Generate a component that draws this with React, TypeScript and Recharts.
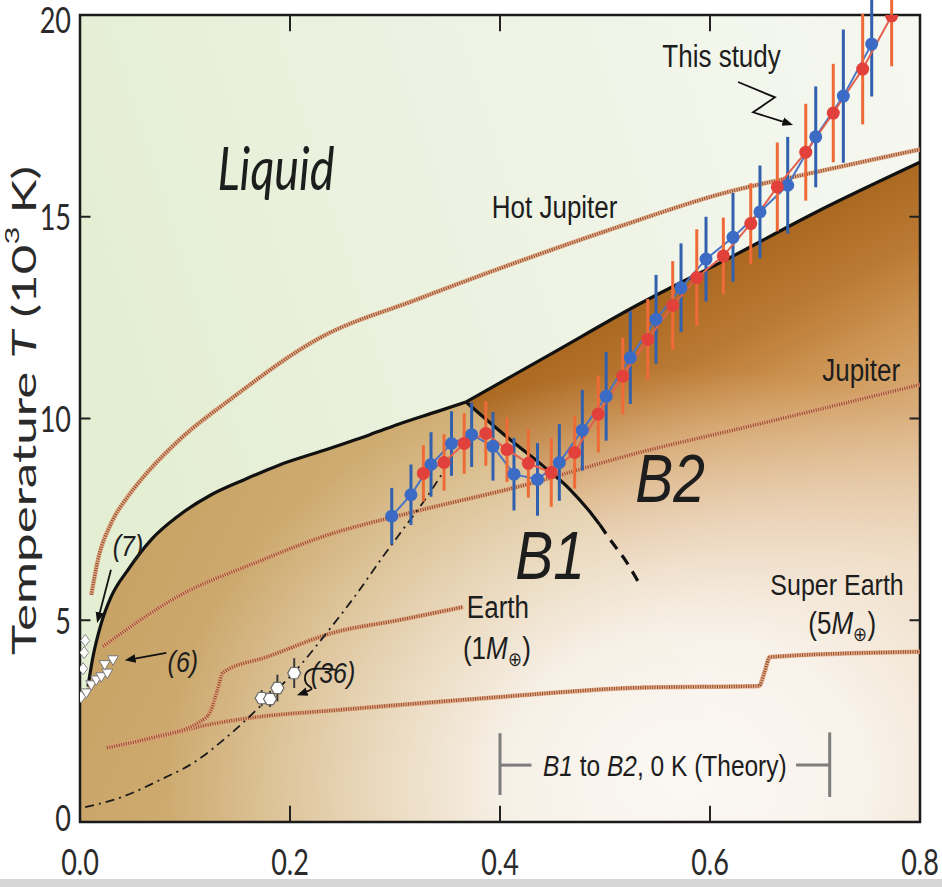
import React from 'react';
import {
  ComposedChart,
  Line,
  Area,
  Scatter,
  XAxis,
  YAxis,
  ErrorBar,
  ReferenceArea,
  ReferenceLine,
  ReferenceDot,
} from 'recharts';

type Pt = { x: number; y: number };
type PtE = Pt & { e: number };

// axis ticks
const xTicks = [0, 0.2, 0.4, 0.6, 0.8];
const yTicks = [0, 5, 10, 15, 20];
const innerXTicks = [0.2, 0.4, 0.6];
const innerYTicks = [5, 10, 15];

// liquid background spans the full plot
const liquidSky: Pt[] = [
  { x: 0, y: 20 },
  { x: 0.8, y: 20 },
];

// melting curve of the B1 phase (pressure TPa, T in 10^3 K)
const meltB1: Pt[] = [
  { x: 0.0076, y: 3.36 },
  { x: 0.0124, y: 4.1 },
  { x: 0.0203, y: 4.93 },
  { x: 0.0298, y: 5.59 },
  { x: 0.0457, y: 6.25 },
  { x: 0.0679, y: 7.0 },
  { x: 0.0933, y: 7.58 },
  { x: 0.125, y: 8.11 },
  { x: 0.157, y: 8.49 },
  { x: 0.19, y: 8.85 },
  { x: 0.2286, y: 9.18 },
  { x: 0.276, y: 9.6 },
  { x: 0.308, y: 9.9 },
  { x: 0.34, y: 10.17 },
  { x: 0.3676, y: 10.41 },
];

// melting curve of the B2 phase
const meltB2: Pt[] = [
  { x: 0.3676, y: 10.41 },
  { x: 0.45, y: 11.62 },
  { x: 0.53, y: 12.8 },
  { x: 0.62, y: 14.0 },
  { x: 0.7, y: 15.1 },
  { x: 0.8, y: 16.35 },
];

// B1-B2 phase boundary
const b1b2Solid: Pt[] = [
  { x: 0.3676, y: 10.41 },
  { x: 0.4095, y: 9.48 },
  { x: 0.4412, y: 8.82 },
  { x: 0.4667, y: 8.24 },
  { x: 0.4889, y: 7.58 },
  { x: 0.495, y: 7.37 },
];
const b1b2Dashed: Pt[] = [
  { x: 0.495, y: 7.37 },
  { x: 0.5048, y: 7.0 },
  { x: 0.519, y: 6.5 },
  { x: 0.5333, y: 5.88 },
];
// solid fields: wall at zero pressure, melting curve, phase boundary, lower tail
const b1Wall: Pt[] = [{ x: 0, y: 3.05 }];
const b1Toe: Pt[] = [
  { x: 0.56, y: 4.6 },
  { x: 0.6, y: 2.5 },
  { x: 0.635, y: 0 },
];
const b1Region: Pt[] = [...b1Wall, ...meltB1, ...b1b2Solid.slice(1), ...b1b2Dashed.slice(1), ...b1Toe];
const solidRegion: Pt[] = [...b1Wall, ...meltB1, ...meltB2.slice(1)];

// planetary isentropes
const hotJupiter: Pt[] = [
  { x: 0.0108, y: 5.63 },
  { x: 0.0171, y: 6.5 },
  { x: 0.0298, y: 7.41 },
  { x: 0.0457, y: 8.07 },
  { x: 0.0584, y: 8.49 },
  { x: 0.095, y: 9.48 },
  { x: 0.143, y: 10.47 },
  { x: 0.2286, y: 12.0 },
  { x: 0.321, y: 12.95 },
  { x: 0.419, y: 13.9 },
  { x: 0.514, y: 14.76 },
  { x: 0.6095, y: 15.56 },
  { x: 0.7048, y: 16.13 },
  { x: 0.8, y: 16.67 },
];
const jupiter: Pt[] = [
  { x: 0.0219, y: 4.35 },
  { x: 0.0933, y: 5.59 },
  { x: 0.1695, y: 6.45 },
  { x: 0.2286, y: 7.05 },
  { x: 0.32, y: 7.7 },
  { x: 0.419, y: 8.32 },
  { x: 0.533, y: 9.16 },
  { x: 0.638, y: 9.81 },
  { x: 0.8, y: 10.84 },
];
const earth: Pt[] = [
  { x: 0.0257, y: 1.84 },
  { x: 0.0667, y: 2.08 },
  { x: 0.114, y: 2.48 },
  { x: 0.124, y: 2.73 },
  { x: 0.131, y: 3.28 },
  { x: 0.136, y: 3.7 },
  { x: 0.178, y: 4.09 },
  { x: 0.241, y: 4.69 },
  { x: 0.305, y: 5.01 },
  { x: 0.365, y: 5.33 },
];
const superEarth: Pt[] = [
  { x: 0.0257, y: 1.84 },
  { x: 0.07, y: 2.08 },
  { x: 0.124, y: 2.42 },
  { x: 0.162, y: 2.58 },
  { x: 0.248, y: 2.78 },
  { x: 0.4, y: 3.1 },
  { x: 0.533, y: 3.33 },
  { x: 0.6467, y: 3.37 },
  { x: 0.652, y: 3.72 },
  { x: 0.657, y: 4.09 },
  { x: 0.8, y: 4.22 },
];

// dash-dot curve through the shock data
const hugoniot: Pt[] = [
  { x: 0.005, y: 0.37 },
  { x: 0.04, y: 0.62 },
  { x: 0.076, y: 1.04 },
  { x: 0.11, y: 1.5 },
  { x: 0.14, y: 2.11 },
  { x: 0.171, y: 2.85 },
  { x: 0.212, y: 3.95 },
  { x: 0.235, y: 4.69 },
  { x: 0.262, y: 5.6 },
  { x: 0.2886, y: 6.58 },
  { x: 0.3076, y: 7.25 },
  { x: 0.3267, y: 7.92 },
  { x: 0.3457, y: 8.66 },
];

// this study: two shots
const shotBlue: PtE[] = [
  { x: 0.2969, y: 7.58, e: 0.7 },
  { x: 0.3152, y: 8.11, e: 0.75 },
  { x: 0.3343, y: 8.86, e: 0.8 },
  { x: 0.3538, y: 9.38, e: 0.8 },
  { x: 0.373, y: 9.6, e: 0.8 },
  { x: 0.3933, y: 9.31, e: 0.85 },
  { x: 0.4133, y: 8.62, e: 0.9 },
  { x: 0.4357, y: 8.49, e: 0.9 },
  { x: 0.4565, y: 8.91, e: 0.95 },
  { x: 0.4784, y: 9.71, e: 1.0 },
  { x: 0.5011, y: 10.55, e: 1.1 },
  { x: 0.5241, y: 11.51, e: 1.15 },
  { x: 0.5486, y: 12.46, e: 1.1 },
  { x: 0.5724, y: 13.24, e: 1.1 },
  { x: 0.5962, y: 13.95, e: 1.05 },
  { x: 0.6219, y: 14.49, e: 1.1 },
  { x: 0.6476, y: 15.12, e: 1.15 },
  { x: 0.674, y: 15.78, e: 1.2 },
  { x: 0.7007, y: 16.98, e: 1.25 },
  { x: 0.727, y: 17.99, e: 1.65 },
  { x: 0.754, y: 19.28, e: 1.3 },
];
const shotRed: PtE[] = [
  { x: 0.327, y: 8.64, e: 0.7 },
  { x: 0.3467, y: 8.91, e: 0.7 },
  { x: 0.3659, y: 9.38, e: 0.75 },
  { x: 0.3865, y: 9.63, e: 0.8 },
  { x: 0.4067, y: 9.23, e: 0.8 },
  { x: 0.427, y: 8.89, e: 0.85 },
  { x: 0.4488, y: 8.66, e: 0.85 },
  { x: 0.4711, y: 9.16, e: 0.9 },
  { x: 0.4936, y: 10.11, e: 0.95 },
  { x: 0.5169, y: 11.05, e: 0.95 },
  { x: 0.5407, y: 11.96, e: 1.0 },
  { x: 0.5645, y: 12.8, e: 1.1 },
  { x: 0.5874, y: 13.49, e: 1.2 },
  { x: 0.6127, y: 14.03, e: 0.95 },
  { x: 0.6388, y: 14.83, e: 1.0 },
  { x: 0.6641, y: 15.74, e: 1.1 },
  { x: 0.6912, y: 16.6, e: 1.2 },
  { x: 0.7174, y: 17.57, e: 1.22 },
  { x: 0.7454, y: 18.66, e: 1.37 },
  { x: 0.773, y: 19.98, e: 1.25 },
];

// earlier measurements
const ref36: PtE[] = [
  { x: 0.173, y: 3.07, e: 0.2 },
  { x: 0.181, y: 3.05, e: 0.2 },
  { x: 0.188, y: 3.32, e: 0.33 },
  { x: 0.204, y: 3.69, e: 0.37 },
];
const ref6: Pt[] = [
  { x: 0.006, y: 3.2 },
  { x: 0.0108, y: 3.4 },
  { x: 0.0155, y: 3.52 },
  { x: 0.0203, y: 3.6 },
  { x: 0.026, y: 3.69 },
  { x: 0.0235, y: 3.9 },
  { x: 0.0314, y: 4.02 },
];
const ref7: Pt[] = [
  { x: 0.005, y: 4.5 },
  { x: 0.004, y: 4.2 },
  { x: 0.003, y: 3.8 },
  { x: 0.001, y: 3.1 },
];

// pointer lines for the annotations
const arrow7: Pt[] = [
  { x: 0.0295, y: 6.25 },
  { x: 0.0171, y: 5.01 },
];
const arrow6: Pt[] = [
  { x: 0.0822, y: 4.19 },
  { x: 0.0457, y: 4.02 },
];
const arrow36: Pt[] = [
  { x: 0.2445, y: 3.77 },
  { x: 0.219, y: 3.77 },
  { x: 0.2152, y: 3.45 },
  { x: 0.2206, y: 3.3 },
  { x: 0.2095, y: 3.17 },
];
const arrowStudy: Pt[] = [
  { x: 0.6267, y: 18.34 },
  { x: 0.6619, y: 17.96 },
  { x: 0.641, y: 17.59 },
  { x: 0.6762, y: 17.3 },
];

// B1 -> B2 transition pressure range from 0 K theory
const theoryRange = [0.4, 0.714];
const theoryLevel = 1.41;

const SANS = '"Liberation Sans", Arial, Helvetica, sans-serif';
const CAL = 'Lato, "Open Sans", sans-serif';
const INK = '#1d1d1d';

type TxtOpts = {
  size: number;
  italic?: boolean;
  family?: string;
  sy?: number;
  anchor?: 'start' | 'middle' | 'end';
  len?: number;
};

function drawText(cx: number, cy: number, o: TxtOpts, content: React.ReactNode) {
  const sy = o.sy ?? 1.2;
  return (
    <text
      x={0}
      y={o.size * 0.36}
      transform={`translate(${cx},${cy}) scale(1,${sy})`}
      fontSize={o.size}
      fontFamily={o.family ?? SANS}
      fontStyle={o.italic ? 'italic' : 'normal'}
      textAnchor={o.anchor ?? 'middle'}
      fill={INK}
      textLength={o.len}
      lengthAdjust={o.len ? 'spacingAndGlyphs' : undefined}
    >
      {content}
    </text>
  );
}

function tag(key: string, x: number, y: number, o: TxtOpts, content: React.ReactNode) {
  return (
    <ReferenceDot
      key={key}
      x={x}
      y={y}
      r={0}
      fill="none"
      stroke="none"
      ifOverflow="visible"
      label={(p: any) => {
        const vb = p.viewBox || {};
        const cx = vb.cx ?? (vb.x ?? 0) + (vb.width ?? 0) / 2;
        const cy = vb.cy ?? (vb.y ?? 0) + (vb.height ?? 0) / 2;
        return drawText(cx, cy, o, content);
      }}
    />
  );
}

function isentrope(key: string, data: Pt[]) {
  return [
    <Line
      key={key + '-base'}
      data={data}
      dataKey="y"
      type="monotone"
      stroke="#e2a27c"
      strokeOpacity={0.85}
      strokeWidth={4.5}
      dot={false}
      activeDot={false}
      isAnimationActive={false}
    />,
    <Line
      key={key + '-dots'}
      data={data}
      dataKey="y"
      type="monotone"
      stroke="#8f4b2b"
      strokeWidth={3.4}
      strokeDasharray="1 1.4"
      dot={false}
      activeDot={false}
      isAnimationActive={false}
    />,
  ];
}

const XTick = (p: any) => (
  <text
    x={0}
    y={19.5}
    transform={`translate(${p.x},${p.y}) scale(1,1.38)`}
    textAnchor="middle"
    fontFamily={CAL}
    fontSize={27}
    fill="#2a2a2a"
  >
    {Number(p.payload.value).toFixed(1)}
  </text>
);

// end labels sit a little inside the frame
const YTick = (p: any) => {
  const v = Number(p.payload.value);
  const nudge = v === 20 ? 5 : v === 0 ? -4 : 0;
  return (
    <text
      x={0}
      y={9.7}
      transform={`translate(${p.x},${p.y + nudge}) scale(1,1.38)`}
      textAnchor="end"
      fontFamily={CAL}
      fontSize={27}
      fill="#2a2a2a"
    >
      {v}
    </text>
  );
};

const yTitle = (p: any) => {
  const vb = p.viewBox || { x: 8, y: 15, width: 72, height: 807 };
  const cx = vb.x + 15;
  const cy = vb.y + vb.height / 2 - 8;
  return (
    <text
      x={0}
      y={0}
      transform={`translate(${cx},${cy}) rotate(-90) scale(1.55,1)`}
      textAnchor="middle"
      dominantBaseline="central"
      fontFamily={CAL}
      fontSize={33}
      fill="#2a2a2a"
    >
      Temperature <tspan fontStyle="italic">T</tspan> (10
      <tspan dy={-12} fontSize={20}>
        3
      </tspan>
      <tspan dy={12}> K)</tspan>
    </text>
  );
};

const hexShape = (p: any) => {
  const { cx, cy } = p;
  const r = 6.5;
  const pts = [0, 1, 2, 3, 4, 5]
    .map((i) => {
      const a = (Math.PI / 3) * i;
      return `${cx + r * Math.cos(a)},${cy + r * Math.sin(a)}`;
    })
    .join(' ');
  return <polygon points={pts} fill="#ffffff" stroke="#6a6a6a" strokeWidth={1.2} />;
};

const downTriangle = (p: any) => {
  const { cx, cy } = p;
  return (
    <polygon
      points={`${cx - 5.5},${cy - 4} ${cx + 5.5},${cy - 4} ${cx},${cy + 5.5}`}
      fill="#ffffff"
      stroke="#777"
      strokeWidth={1}
    />
  );
};

const diamond = (p: any) => {
  const { cx, cy } = p;
  return (
    <polygon
      points={`${cx},${cy - 6} ${cx + 4.5},${cy} ${cx},${cy + 6} ${cx - 4.5},${cy}`}
      fill="#ffffff"
      stroke="#888"
      strokeWidth={1}
    />
  );
};

export default function App() {
  return (
    <div style={{ position: 'absolute', left: 0, top: 0, width: 942, height: 887, background: '#fff' }}>
      <ComposedChart width={942} height={887} margin={{ top: 15, right: 22, bottom: 0, left: 8 }}>
        <defs>
          <linearGradient id="liquidFill" x1="0" y1="0.3" x2="1" y2="0">
            <stop offset="0" stopColor="#e4eed3" />
            <stop offset="0.5" stopColor="#eef3e4" />
            <stop offset="1" stopColor="#f6f8f1" />
          </linearGradient>
          <linearGradient id="b1Fill" x1="0" y1="0" x2="1" y2="0.3">
            <stop offset="0" stopColor="#c49d5e" />
            <stop offset="0.5" stopColor="#d0ae74" />
            <stop offset="1" stopColor="#dcc08f" />
          </linearGradient>
          {/* B2 shading deepens toward the melting line */}
          <linearGradient id="b2Fill" x1="1" y1="0" x2="1.192" y2="0.53">
            <stop offset="0" stopColor="#ab6922" />
            <stop offset="0.2" stopColor="#bb7a33" />
            <stop offset="0.4" stopColor="#cd9554" />
            <stop offset="0.7" stopColor="#ddb587" />
            <stop offset="1" stopColor="#e9cfae" />
          </linearGradient>
          {/* pale glow over the low-temperature solid */}
          <radialGradient id="solidGlow" cx="0.72" cy="0.93" r="0.62">
            <stop offset="0" stopColor="#fbf8f4" stopOpacity={1} />
            <stop offset="0.35" stopColor="#faf6f1" stopOpacity={0.9} />
            <stop offset="0.65" stopColor="#f8f1e8" stopOpacity={0.52} />
            <stop offset="1" stopColor="#f6eee2" stopOpacity={0} />
          </radialGradient>
          <marker id="arrowHead" viewBox="0 0 10 10" refX="7" refY="5" markerWidth="6" markerHeight="6" orient="auto">
            <path d="M0,1 L10,5 L0,9 z" fill="#111" />
          </marker>
        </defs>

        <XAxis
          dataKey="x"
          type="number"
          domain={[0, 0.8]}
          ticks={xTicks}
          allowDataOverflow
          axisLine={false}
          tickLine={false}
          tickSize={0}
          tickMargin={26}
          height={65}
          tick={XTick}
        />
        <YAxis
          dataKey="y"
          type="number"
          domain={[0, 20]}
          ticks={yTicks}
          allowDataOverflow
          axisLine={false}
          tickLine={false}
          tickSize={0}
          tickMargin={9}
          width={72}
          tick={YTick}
          label={{ content: yTitle }}
        />

        {/* phase regions */}
        <Area data={liquidSky} dataKey="y" type="linear" stroke="none" fill="url(#liquidFill)" fillOpacity={1} isAnimationActive={false} activeDot={false} />
        <Area data={meltB2} dataKey="y" type="linear" stroke="none" fill="url(#b2Fill)" fillOpacity={1} isAnimationActive={false} activeDot={false} />
        <Area data={b1Region} dataKey="y" type="linear" stroke="none" fill="url(#b1Fill)" fillOpacity={1} isAnimationActive={false} activeDot={false} />
        <Area data={solidRegion} dataKey="y" type="linear" stroke="none" fill="url(#solidGlow)" fillOpacity={1} isAnimationActive={false} activeDot={false} />

        {/* planetary isentropes */}
        {isentrope('hotJupiter', hotJupiter)}
        {isentrope('jupiter', jupiter)}
        {isentrope('superEarth', superEarth)}
        {isentrope('earth', earth)}

        {/* dash-dot curve */}
        <Line data={hugoniot} dataKey="y" type="monotone" stroke="#1a1a1a" strokeWidth={1.8} strokeDasharray="9 5 2 5" dot={false} activeDot={false} isAnimationActive={false} />

        {/* phase boundaries */}
        <Line data={meltB1} dataKey="y" type="monotone" stroke="#111" strokeWidth={3.2} dot={false} activeDot={false} isAnimationActive={false} />
        <Line data={meltB2} dataKey="y" type="monotone" stroke="#111" strokeWidth={3.2} dot={false} activeDot={false} isAnimationActive={false} />
        <Line data={b1b2Solid} dataKey="y" type="monotone" stroke="#111" strokeWidth={3.2} dot={false} activeDot={false} isAnimationActive={false} />
        <Line data={b1b2Dashed} dataKey="y" type="monotone" stroke="#111" strokeWidth={3.2} strokeDasharray="11 8" dot={false} activeDot={false} isAnimationActive={false} />

        {/* this study */}
        <Line
          data={shotBlue}
          dataKey="y"
          type="linear"
          stroke="#4b74c4"
          strokeWidth={2}
          dot={{ r: 6.5, fill: '#3b6bc4', stroke: 'none' }}
          activeDot={false}
          isAnimationActive={false}
        >
          <ErrorBar dataKey="e" direction="y" width={0} stroke="#3160ae" strokeWidth={3} />
        </Line>
        <Line
          data={shotRed}
          dataKey="y"
          type="linear"
          stroke="#e3604c"
          strokeWidth={2}
          dot={{ r: 6.5, fill: '#e2413b', stroke: 'none' }}
          activeDot={false}
          isAnimationActive={false}
        >
          <ErrorBar dataKey="e" direction="y" width={0} stroke="#ee6a36" strokeWidth={3} />
        </Line>

        {/* earlier data */}
        <Scatter data={ref36} dataKey="y" shape={hexShape} isAnimationActive={false}>
          <ErrorBar dataKey="e" direction="y" width={0} stroke="#3a3a3a" strokeWidth={2} />
        </Scatter>
        <Scatter data={ref6} dataKey="y" shape={downTriangle} isAnimationActive={false} />
        <Scatter data={ref7} dataKey="y" shape={diamond} isAnimationActive={false} />

        {/* pointers */}
        <Line data={arrow7} dataKey="y" type="linear" stroke="#111" strokeWidth={1.8} dot={false} activeDot={false} markerEnd="url(#arrowHead)" isAnimationActive={false} />
        <Line data={arrow6} dataKey="y" type="linear" stroke="#111" strokeWidth={1.8} dot={false} activeDot={false} markerEnd="url(#arrowHead)" isAnimationActive={false} />
        <Line data={arrow36} dataKey="y" type="natural" stroke="#111" strokeWidth={1.8} dot={false} activeDot={false} markerEnd="url(#arrowHead)" isAnimationActive={false} />
        <Line data={arrowStudy} dataKey="y" type="linear" stroke="#111" strokeWidth={1.8} dot={false} activeDot={false} markerEnd="url(#arrowHead)" isAnimationActive={false} />

        {/* theory bracket */}
        <ReferenceLine segment={[{ x: theoryRange[0], y: 0.67 }, { x: theoryRange[0], y: 2.2 }]} stroke="#7d7d7d" strokeWidth={3} />
        <ReferenceLine segment={[{ x: theoryRange[0], y: theoryLevel }, { x: theoryRange[0] + 0.03, y: theoryLevel }]} stroke="#7d7d7d" strokeWidth={3} />
        <ReferenceLine segment={[{ x: theoryRange[1], y: 0.62 }, { x: theoryRange[1], y: 2.22 }]} stroke="#7d7d7d" strokeWidth={3} />
        <ReferenceLine segment={[{ x: theoryRange[1] - 0.032, y: theoryLevel }, { x: theoryRange[1], y: theoryLevel }]} stroke="#7d7d7d" strokeWidth={3} />

        {/* labels */}
        {tag('liquid', 0.1867, 16.2, { size: 46, italic: true, family: CAL, sy: 1.3, len: 117 }, 'Liquid')}
        {tag('hotJ', 0.452, 15.25, { size: 26 }, 'Hot Jupiter')}
        {tag('jup', 0.744, 11.2, { size: 26 }, 'Jupiter')}
        {tag('earth', 0.398, 5.33, { size: 26 }, 'Earth')}
        {tag(
          'earthM',
          0.397,
          4.33,
          { size: 26 },
          <>
            (1<tspan fontStyle="italic">M</tspan>
            <tspan dy={6} fontSize={17}>⊕</tspan>
            <tspan dy={-6}>)</tspan>
          </>,
        )}
        {tag('super', 0.721, 5.9, { size: 25 }, 'Super Earth')}
        {tag(
          'superM',
          0.726,
          4.95,
          { size: 26 },
          <>
            (5<tspan fontStyle="italic">M</tspan>
            <tspan dy={6} fontSize={17}>⊕</tspan>
            <tspan dy={-6}>)</tspan>
          </>,
        )}
        {tag('b1', 0.4476, 6.63, { size: 57, italic: true }, 'B1')}
        {tag('b2', 0.562, 8.54, { size: 57, italic: true }, 'B2')}
        {tag('study', 0.611, 19.0, { size: 26 }, 'This study')}
        {tag('r7', 0.0457, 6.87, { size: 25, italic: true }, '(7)')}
        {tag('r6', 0.098, 3.99, { size: 25, italic: true }, '(6)')}
        {tag('r36', 0.241, 3.72, { size: 25, italic: true }, '(36)')}
        {tag(
          'theory',
          0.557,
          theoryLevel,
          { size: 24.5 },
          <>
            <tspan fontStyle="italic">B1</tspan> to <tspan fontStyle="italic">B2</tspan>, 0 K (Theory)
          </>,
        )}

        {/* inward ticks */}
        {innerXTicks.map((v) => (
          <ReferenceLine key={'xb' + v} segment={[{ x: v, y: 0 }, { x: v, y: 0.4 }]} stroke="#222" strokeWidth={2} />
        ))}
        {innerXTicks.map((v) => (
          <ReferenceLine key={'xt' + v} segment={[{ x: v, y: 20 }, { x: v, y: 19.6 }]} stroke="#222" strokeWidth={2} />
        ))}
        {innerYTicks.map((v) => (
          <ReferenceLine key={'yl' + v} segment={[{ x: 0, y: v }, { x: 0.01, y: v }]} stroke="#222" strokeWidth={2} />
        ))}
        {innerYTicks.map((v) => (
          <ReferenceLine key={'yr' + v} segment={[{ x: 0.79, y: v }, { x: 0.8, y: v }]} stroke="#222" strokeWidth={2} />
        ))}

        {/* plot frame */}
        <ReferenceArea x1={0} x2={0.8} y1={0} y2={20} fill="none" stroke="#1a1a1a" strokeWidth={2.5} />
      </ComposedChart>
      <div style={{ position: 'absolute', left: 0, top: 879, width: 942, height: 8, background: '#d6d6d6' }} />
    </div>
  );
}
